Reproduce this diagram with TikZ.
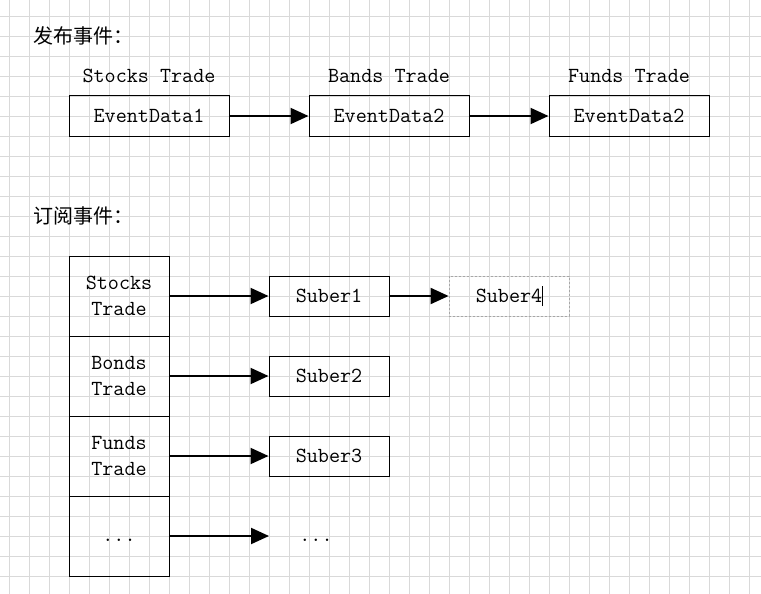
\documentclass[tikz,border=0pt]{standalone}
\usepackage{fontspec}
\newfontfamily\cjk{Noto Sans CJK SC}
\usetikzlibrary{arrows.meta,positioning}

\tikzset{
  gridline/.style={draw=black!15, line width=0.8pt},
  txt/.style={font=\fontsize{21.5}{26}\selectfont\ttfamily, inner sep=0pt},
  head/.style={font=\fontsize{20}{24}\selectfont\cjk, inner sep=0pt, anchor=west},
  databox/.style={txt, draw, line width=1pt, minimum width=160pt, minimum height=40pt},
  topicbox/.style={txt, draw, line width=1pt, minimum width=100pt, minimum height=80pt, align=center},
  suberbox/.style={txt, draw, line width=1pt, minimum width=120pt, minimum height=40pt},
  dots/.style={text height=14pt, text depth=4pt},
  flow/.style={-{Triangle[length=18pt,width=16pt]}, line width=2pt}
}

\begin{document}
\begin{tikzpicture}[x=1pt, y=-1pt, node distance=240pt, on grid]
  \useasboundingbox (0,0) rectangle (761,594);
  \fill[white] (0,0) rectangle (761,594);
  \foreach \x in {9,29,...,749} \draw[gridline] (\x,0) -- (\x,594);
  \foreach \y in {16,36,...,576} \draw[gridline] (0,\y) -- (761,\y);

  % publish
  \node[head] (pub) at (33,36) {发布事件：};
  \node[databox] (data1) at (149,116) {EventData1};
  \node[databox] (data2) [right=of data1] {EventData2};
  \node[databox] (data3) [right=of data2] {EventData2};
  \node[txt] (stocks) [above=40pt of data1] {Stocks Trade};
  \node[txt] (bands)  [above=40pt of data2] {Bands Trade};
  \node[txt] (funds)  [above=40pt of data3] {Funds Trade};

  \draw[flow] (data1) -- (data2);
  \draw[flow] (data2) -- (data3);

  % subscribe
  \node[head] (sub) at (33,216) {订阅事件：};
  \node[topicbox] (t_stocks) at (119,296) {Stocks\\Trade};
  \node[topicbox] (t_bonds) [below=80pt of t_stocks] {Bonds\\Trade};
  \node[topicbox] (t_funds) [below=80pt of t_bonds] {Funds\\Trade};
  \node[topicbox, dots] (t_more) [below=80pt of t_funds] {...};

  \node[suberbox] (s1) [right=210pt of t_stocks] {Suber1};
  \node[suberbox] (s2) [right=210pt of t_bonds] {Suber2};
  \node[suberbox] (s3) [right=210pt of t_funds] {Suber3};
  \node[txt, dots, minimum width=120pt, minimum height=40pt] (s_more) [right=197pt of t_more] {...};
  \node[suberbox, draw=black!35, line width=0.8pt, dash pattern=on 2pt off 2pt] (s4) [right=180pt of s1]
    {Suber4\rlap{\rule[-4pt]{0.8pt}{20pt}}};

  \draw[flow] (t_stocks) -- (s1);
  \draw[flow] (t_bonds) -- (s2);
  \draw[flow] (t_funds) -- (s3);
  \draw[flow] (t_more.east) -- (269,536);
  \draw[flow] (s1) -- (s4);
\end{tikzpicture}
\end{document}
